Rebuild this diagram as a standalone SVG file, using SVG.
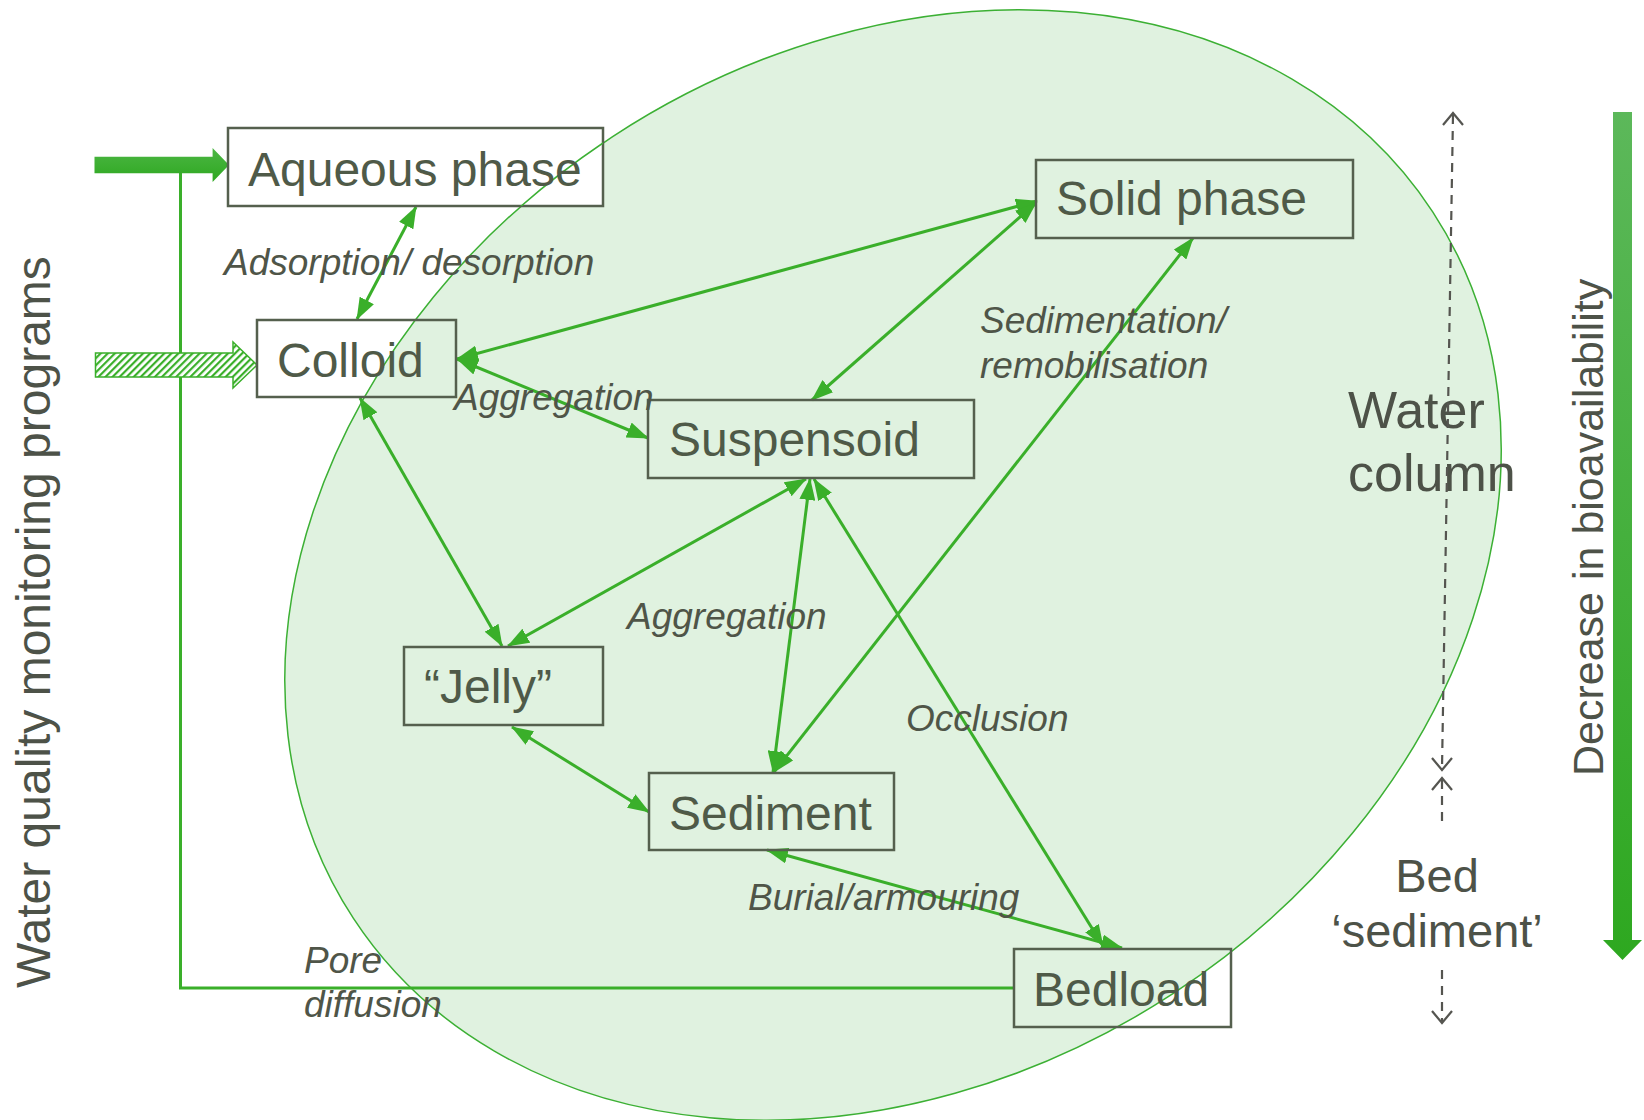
<svg xmlns="http://www.w3.org/2000/svg" width="1644" height="1120" viewBox="0 0 1644 1120">
<style>
.box{fill:none;stroke:#55604e;stroke-width:2.5}
.bt{font-family:"Liberation Sans",Arial,sans-serif;font-size:48px;fill:#4f5a48}
.lb{font-family:"Liberation Sans",Arial,sans-serif;font-size:37px;font-style:italic;fill:#4f5548}
.big{font-family:"Liberation Sans",Arial,sans-serif;fill:#4d5248}
.con{stroke:#3aaf2a;stroke-width:3;fill:none;marker-start:url(#ah);marker-end:url(#ah)}
.dash{stroke:#555550;stroke-width:2.2;stroke-dasharray:9,7;fill:none}
.chev{stroke:#555550;stroke-width:2.2;fill:none}
</style>
<defs>
<marker id="ah" markerUnits="userSpaceOnUse" markerWidth="22" markerHeight="16" refX="21" refY="8" orient="auto-start-reverse">
<path d="M0,0 L22,8 L0,16 z" fill="#3aaf2a"/>
</marker>
<pattern id="hatch" patternUnits="userSpaceOnUse" width="5" height="5" patternTransform="rotate(45)">
<rect width="5" height="5" fill="#ffffff"/>
<rect width="2.2" height="5" fill="#3aaf2a"/>
</pattern>
<linearGradient id="gbar" x1="0" y1="0" x2="0" y2="1">
<stop offset="0" stop-color="#5cb85a"/>
<stop offset="1" stop-color="#2ea820"/>
</linearGradient>
<linearGradient id="garr" x1="0" y1="0" x2="0" y2="1">
<stop offset="0" stop-color="#4cb644"/>
<stop offset="1" stop-color="#2ea820"/>
</linearGradient>
<clipPath id="aqclip"><rect x="228" y="128" width="375" height="78"/></clipPath>
</defs>
<rect width="1644" height="1120" fill="#ffffff"/>
<ellipse cx="893" cy="565" rx="645" ry="512" transform="rotate(-33.2 893 565)" fill="#e0f2e0" stroke="#3cb034" stroke-width="1.5"/>

<g id="connectors">
<polyline points="180.5,173 180.5,988 1014,988" fill="none" stroke="#3aaf2a" stroke-width="3"/>
<line class="con" x1="416" y1="207" x2="357" y2="319"/>
<line class="con" x1="457" y1="359" x2="1037" y2="201"/>
<line class="con" x1="457" y1="359" x2="648" y2="438"/>
<line class="con" x1="1036" y1="203" x2="812" y2="400"/>
<line class="con" x1="1193" y1="238" x2="774" y2="772"/>
<line class="con" x1="360" y1="398" x2="502" y2="646"/>
<line class="con" x1="806" y1="479" x2="508" y2="646"/>
<line class="con" x1="810" y1="479" x2="773" y2="772"/>
<line class="con" x1="814" y1="479" x2="1103" y2="946"/>
<line class="con" x1="512" y1="727" x2="649" y2="812"/>
<line class="con" x1="767" y1="850" x2="1122" y2="948"/>
</g>

<g id="input-arrows">
<path d="M94.5,156.7 L212.6,156.7 L212.6,148 L229,165 L212.6,182 L212.6,173.3 L94.5,173.3 z" fill="url(#garr)"/>
<path d="M95.5,353 L233,353 L233,342 L257,365 L233,388 L233,377 L95.5,377 z" fill="url(#hatch)" stroke="#3aaf2a" stroke-width="1.5"/>
</g>

<g id="aqueous-phase">
<rect class="box" x="228" y="128" width="375" height="78" style="fill:#ffffff"/>
<g clip-path="url(#aqclip)">
<ellipse cx="893" cy="565" rx="645" ry="512" transform="rotate(-33.2 893 565)" fill="none" stroke="#3cb034" stroke-width="1.5"/>
</g>
<text class="bt" x="248" y="186">Aqueous phase</text>
</g>
<g id="colloid">
<rect class="box" x="257" y="320" width="199" height="77"/>
<text class="bt" x="277" y="377">Colloid</text>
</g>
<g id="solid-phase">
<rect class="box" x="1036" y="160" width="317" height="78"/>
<text class="bt" x="1056" y="215">Solid phase</text>
</g>
<g id="suspensoid">
<rect class="box" x="648" y="400" width="326" height="78"/>
<text class="bt" x="669" y="456">Suspensoid</text>
</g>
<g id="jelly">
<rect class="box" x="404" y="647" width="199" height="78"/>
<text class="bt" x="424" y="703">“Jelly”</text>
</g>
<g id="sediment">
<rect class="box" x="649" y="773" width="245" height="77"/>
<text class="bt" x="669" y="830">Sediment</text>
</g>
<g id="bedload">
<rect class="box" x="1014" y="949" width="217" height="78"/>
<text class="bt" x="1033" y="1006">Bedload</text>
</g>

<g id="labels">
<text class="lb" x="224" y="275">Adsorption/ desorption</text>
<text class="lb" x="454" y="410">Aggregation</text>
<text class="lb" x="980" y="333">Sedimentation/</text>
<text class="lb" x="980" y="378">remobilisation</text>
<text class="lb" x="627" y="629">Aggregation</text>
<text class="lb" x="906" y="731">Occlusion</text>
<text class="lb" x="748" y="910">Burial/armouring</text>
<text class="lb" x="304" y="973">Pore</text>
<text class="lb" x="304" y="1017">diffusion</text>
</g>

<g id="water-column">
<text class="big" x="1348" y="428" font-size="52">Water</text>
<text class="big" x="1348" y="491" font-size="52">column</text>
</g>
<g id="bed-sediment">
<text class="big" x="1437" y="892" font-size="47" text-anchor="middle">Bed</text>
<text class="big" x="1437" y="947" font-size="47" text-anchor="middle">‘sediment’</text>
</g>

<g id="depth-arrows">
<line class="dash" x1="1453" y1="115" x2="1442" y2="768"/>
<polyline class="chev" points="1443,125 1453,113 1463,125"/>
<polyline class="chev" points="1432,758 1442,770 1452,758"/>
<line class="dash" x1="1442" y1="780" x2="1442" y2="827"/>
<polyline class="chev" points="1432,790 1442,778 1452,790"/>
<line class="dash" x1="1442" y1="970" x2="1442" y2="1021"/>
<polyline class="chev" points="1432,1011 1442,1023 1452,1011"/>
</g>

<g id="bioavailability">
<path d="M1613,112 L1632,112 L1632,940 L1642,940 L1622.5,960 L1603,940 L1613,940 z" fill="url(#gbar)"/>
<text class="big" font-size="43" transform="translate(1603,776) rotate(-90)">Decrease in bioavailability</text>
</g>

<g id="monitoring">
<text class="big" font-size="48" transform="translate(50,988) rotate(-90)">Water quality monitoring programs</text>
</g>
</svg>
